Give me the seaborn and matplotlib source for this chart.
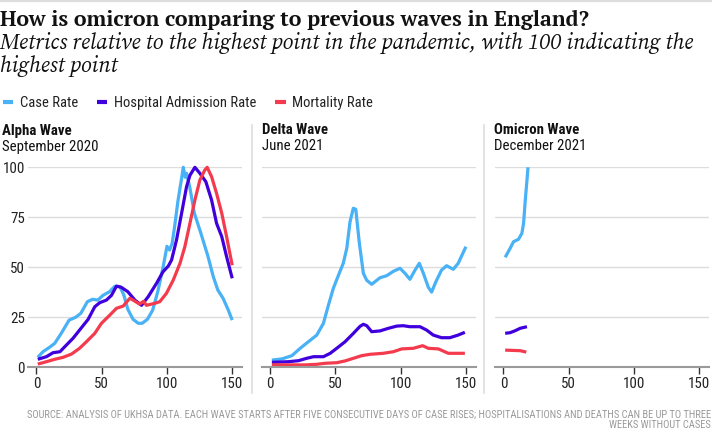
import matplotlib
matplotlib.use("Agg")
import matplotlib.pyplot as plt
from matplotlib.lines import Line2D
import seaborn as sns
import pandas as pd

# ---------------- data ----------------
series_names = ["Case Rate", "Hospital Admission Rate", "Mortality Rate"]
colors = ["#49b1f5", "#3f00dd", "#f43b4d"]

wave_titles = ["Alpha Wave", "Delta Wave", "Omicron Wave"]
wave_dates = ["September 2020", "June 2021", "December 2021"]

alpha_case_x = [1, 5, 10, 14, 19, 25, 30, 34, 39, 43, 47, 51, 56, 60, 64, 67, 70, 74, 78, 81, 85, 89, 93, 97, 100, 102, 104, 106, 108.5, 111, 112.5, 114, 115, 117.5, 121, 126, 131.5, 135.5, 139, 143, 147, 150]
alpha_case_y = [5, 7.8, 10, 12, 17, 23.6, 25, 27, 32.8, 34, 33.6, 36, 37.8, 40.5, 40.3, 36, 29, 24, 22, 22, 24, 28.5, 38, 50, 60.5, 58.6, 62, 71, 83.6, 93.6, 100, 95, 97, 90, 77, 67, 55.3, 45.3, 38.6, 34.5, 28.6, 23.6]

alpha_hosp_x = [1, 7.6, 12.7, 18, 21.7, 28, 33, 39.6, 44.7, 48.5, 53.6, 57.5, 61.3, 65, 70, 75.4, 80.5, 85.6, 92, 97, 101, 103.5, 107.3, 111.2, 115, 117.6, 121.4, 125.2, 129.8, 134.2, 138, 142, 145.7, 150]
alpha_hosp_y = [4, 5.3, 7.3, 7.8, 10.3, 14.5, 18.6, 24, 30.3, 32.3, 33.6, 36, 40.6, 40, 37.8, 33.6, 31, 35.3, 42, 47.8, 50.6, 53.6, 63.6, 77, 90.3, 96, 100, 97, 92.8, 83.6, 72, 65.3, 55.3, 44.5]

alpha_mort_x = [1, 7.6, 14, 20.4, 26.8, 33, 38.3, 44.7, 49.8, 56.2, 61.3, 66.4, 71.5, 74, 79, 82, 84.3, 90.7, 94.5, 99.6, 104.8, 110, 113.7, 117.6, 121.4, 125.2, 129, 130.8, 134.2, 138, 142, 145.7, 150]
alpha_mort_y = [1.6, 2.8, 4, 5, 6.6, 9.5, 12.8, 17, 22, 26.1, 29.5, 30.6, 34.5, 33.6, 31.6, 33, 31, 32, 32.8, 37, 43.6, 52, 60.3, 72, 83.6, 93.6, 98.6, 100, 95.3, 87, 77, 65.3, 51]

delta_case_x = [1.3, 9, 16.6, 23, 29.3, 35.7, 40.8, 44.6, 48.4, 52.3, 56, 58.7, 61.2, 63.7, 65.6, 68.2, 71.4, 74, 77.8, 84.2, 89.3, 94.4, 99.5, 103.3, 107.1, 111, 114.3, 117.4, 121.2, 123.7, 127, 131.3, 135.2, 140.3, 144.1, 150]
delta_case_y = [3.6, 4.2, 5.8, 9.5, 12.8, 16.1, 22, 31, 39.5, 46, 52, 59.5, 72.8, 79.5, 79, 62.8, 47, 43.5, 41.5, 44.8, 45.8, 48, 49.5, 47, 44, 48.6, 52, 47, 40, 37.6, 42.8, 48.6, 50.8, 49, 52, 60.3]

delta_hosp_x = [1.3, 14, 21.7, 28, 33.2, 40.8, 46, 51, 57.4, 63.8, 68.9, 71.4, 74, 77.8, 84.2, 90.6, 97, 102, 107, 114.8, 119.9, 125, 131.3, 137.7, 144, 149.2]
delta_hosp_y = [2.5, 2.8, 3.3, 4.5, 5.3, 5.3, 7, 9.5, 12.8, 17, 20.5, 21.5, 20.8, 17.8, 18.2, 19.5, 20.6, 20.8, 20.3, 20.3, 18.6, 16.1, 14.8, 14.8, 16.1, 17.5]

delta_mort_x = [1.3, 14, 26.8, 35.7, 42, 51, 57.4, 63.8, 70, 76.5, 86.7, 94.4, 100.8, 109.7, 116.8, 121.2, 128.9, 136.5, 142.9, 149.2]
delta_mort_y = [1.2, 1.2, 1.2, 1.5, 2, 2.3, 3.2, 4.5, 5.8, 6.5, 7, 7.8, 9.2, 9.5, 10.8, 9.5, 9.2, 7, 7, 7]

omicron_case_x = [1.3, 5.1, 7.7, 11.5, 14.1, 15.4, 16.7, 18, 18.8]
omicron_case_y = [55, 59.5, 62.8, 64, 67, 72, 83.6, 93.6, 100]

omicron_hosp_x = [1.3, 5, 9, 12.8, 18]
omicron_hosp_y = [17, 17.3, 18.3, 19.5, 20.3]

omicron_mort_x = [1.3, 12.8, 17.5]
omicron_mort_y = [8.6, 8.3, 7.6]

x_ticks = [0, 50, 100, 150]
y_ticks = [0, 25, 50, 75, 100]

title = "How is omicron comparing to previous waves in England?"
subtitle_lines = ["Metrics relative to the highest point in the pandemic, with 100 indicating the",
                  "highest point"]
footer_lines = ["SOURCE: ANALYSIS OF UKHSA DATA. EACH WAVE STARTS AFTER FIVE CONSECUTIVE DAYS OF CASE RISES; "
                "HOSPITALISATIONS AND DEATHS CAN BE UP TO THREE",
                "WEEKS WITHOUT CASES"]

# ---------------- build table ----------------
waves = {
    "Alpha Wave": [(alpha_case_x, alpha_case_y), (alpha_hosp_x, alpha_hosp_y), (alpha_mort_x, alpha_mort_y)],
    "Delta Wave": [(delta_case_x, delta_case_y), (delta_hosp_x, delta_hosp_y), (delta_mort_x, delta_mort_y)],
    "Omicron Wave": [(omicron_case_x, omicron_case_y), (omicron_hosp_x, omicron_hosp_y), (omicron_mort_x, omicron_mort_y)],
}
rows = []
for w, lst in waves.items():
    for name, (xs, ys) in zip(series_names, lst):
        for xv, yv in zip(xs, ys):
            rows.append({"wave": w, "metric": name, "day": xv, "value": yv})
df = pd.DataFrame(rows)

# ---------------- style ----------------
sns.set_theme(style="white")
SANS = ["Roboto Condensed", "DejaVu Sans"]
SERIF_B = ["PT Serif", "DejaVu Serif"]
SERIF_I = ["Source Serif 4", "DejaVu Serif"]
plt.rcParams["font.family"] = SANS

W, H = 712, 440
fig = plt.figure(figsize=(W / 100, H / 100), dpi=100)

def fx(px):
    return px / W

def fy(py):
    return 1 - py / H

ax_lefts = [28, 261.7, 495]
ax_w = 214
y0_px, y100_px = 367.3, 167.3
palette = dict(zip(series_names, colors))

for i, (w, left) in enumerate(zip(wave_titles, ax_lefts)):
    ax = fig.add_axes([fx(left), fy(y0_px), ax_w / W, (y0_px - y100_px) / H])
    sub = df[df["wave"] == w]
    sns.lineplot(data=sub, x="day", y="value", hue="metric", hue_order=series_names,
                 palette=palette, estimator=None, sort=False, linewidth=2.3,
                 legend=False, ax=ax)
    for ln in ax.lines:
        ln.set_clip_on(False)
        ln.set_solid_capstyle("butt")
    ax.set_xlim(-6.5, 157.5)
    ax.set_ylim(0, 100)
    ax.set_xticks(x_ticks)
    ax.set_yticks(y_ticks)
    ax.set_xlabel("")
    ax.set_ylabel("")
    ax.grid(axis="y", color="#dcdcdc", linewidth=1.0)
    ax.grid(axis="x", visible=False)
    ax.set_axisbelow(True)
    for s in ["top", "right", "left"]:
        ax.spines[s].set_visible(False)
    ax.spines["bottom"].set_color("#9a9a9a")
    ax.spines["bottom"].set_linewidth(1.5)
    ax.tick_params(axis="x", which="major", bottom=True, length=5, width=1, color="#333333",
                   pad=2, labelsize=10.8, labelcolor="#222222")
    if i == 0:
        ax.tick_params(axis="y", left=False, length=0, pad=2.2, labelsize=10.8, labelcolor="#222222")
    else:
        ax.tick_params(axis="y", left=False, length=0, labelleft=False)
    ax.set_facecolor("none")
    # panel headers
    tx = [2, 262, 494][i]
    fig.text(fx(tx), fy(134.5), w, fontsize=10.7, fontweight="bold", color="#111111", va="baseline", family=SANS)
    fig.text(fx(tx), fy(150.5), wave_dates[i], fontsize=10.7, color="#111111", va="baseline", family=SANS)

# vertical separators
for sx in [251.5, 484.5]:
    fig.add_artist(Line2D([fx(sx), fx(sx)], [fy(125), fy(393)], color="#e3e3e3", linewidth=1.5,
                          transform=fig.transFigure))
# top rule
fig.add_artist(Line2D([0, 1], [fy(0.8), fy(0.8)], color="#dddddd", linewidth=1.6, transform=fig.transFigure))

# title + subtitle
fig.text(0, fy(26), title, fontsize=15.4, fontweight="bold", color="#111111", va="baseline", family=SERIF_B)
for line, by in zip(subtitle_lines, [49.3, 71.7]):
    fig.text(0, fy(by), line, fontsize=15.7, style="italic", color="#111111", va="baseline", family=SERIF_I)

# legend
handles = [Line2D([0], [0], color=c, linewidth=3, solid_capstyle="butt") for c in colors]
fig.legend(handles, series_names, loc="center left", bbox_to_anchor=(fx(2.5), fy(103)),
           frameon=False, ncol=3, handlelength=0.72, handletextpad=0.45, columnspacing=1.3,
           borderpad=0, borderaxespad=0, fontsize=10.5, labelcolor="#222222")

# footer
for line, by in zip(footer_lines, [418, 427.5]):
    fig.text(fx(711), fy(by), line, fontsize=7.6, color="#9a9a9a", ha="right", va="baseline", family=SANS)

fig.savefig("out.png", dpi=100)
